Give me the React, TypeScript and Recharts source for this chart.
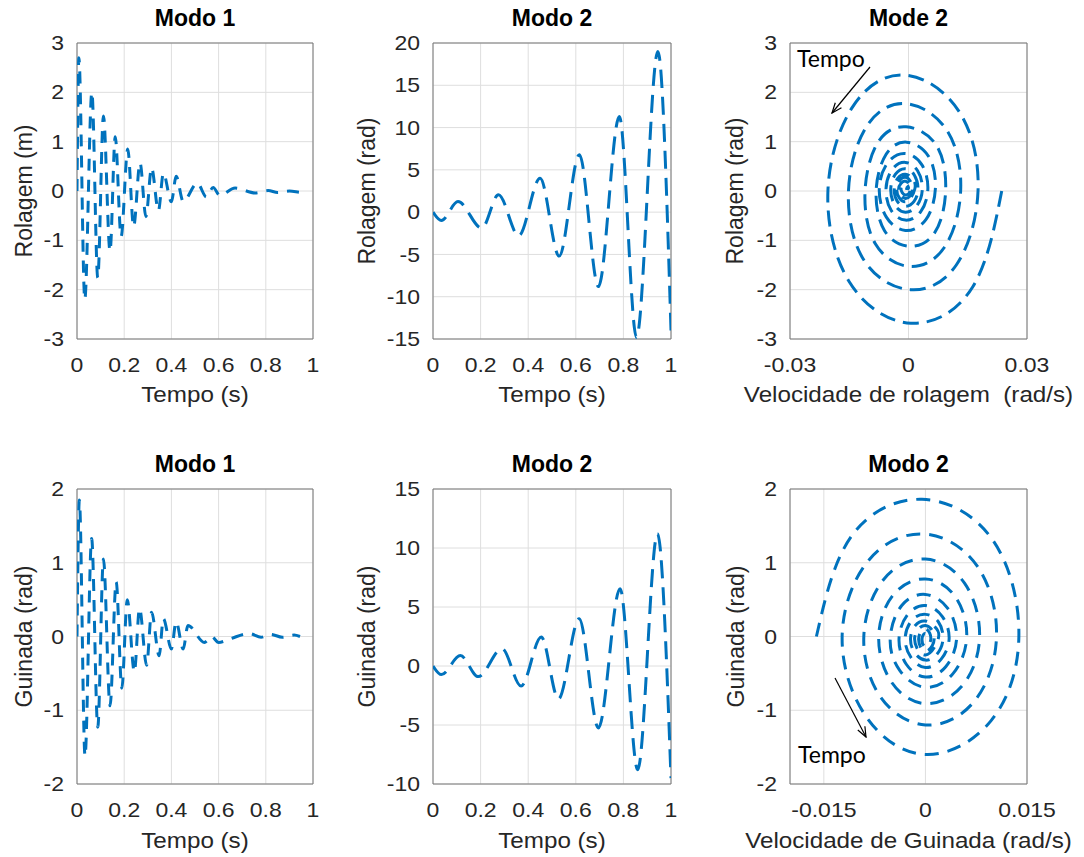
import React from 'react';
import { LineChart, Line, XAxis, YAxis, CartesianGrid, ReferenceArea } from 'recharts';

// ---- Modo 1 (rolagem x tempo) ----
const tempoRol1 = [0, 0.008, 0.033, 0.063, 0.088, 0.112, 0.14, 0.162, 0.187, 0.215, 0.24, 0.267, 0.292, 0.316, 0.345, 0.366, 0.4, 0.42, 0.45, 0.51, 0.548, 0.577, 0.605, 0.67, 0.755, 0.81, 0.85, 0.9, 0.955, 0.975];
const rolagem1 = [0, 2.7, -2.2, 2.0, -1.76, 1.52, -1.22, 1.1, -0.92, 0.85, -0.72, 0.57, -0.52, 0.47, -0.4, 0.36, -0.22, 0.3, -0.21, 0.16, -0.12, 0.07, -0.09, 0.06, -0.04, 0.01, -0.03, 0.0, -0.03, 0.0];

// ---- Modo 2 (rolagem x tempo) ----
const tempoRol2 = [0, 0.035, 0.105, 0.205, 0.275, 0.36, 0.45, 0.53, 0.615, 0.695, 0.783, 0.855, 0.945, 1.0];
const rolagem2 = [0, -1.0, 1.25, -1.9, 2.05, -2.8, 4.0, -5.2, 6.8, -8.8, 11.3, -14.8, 19.0, -14.0];

// ---- Modo 2 (rolagem x velocidade de rolagem) ----
const velRol = [
  0.0236, 0.0162, 0.0006, -0.015, -0.0204, -0.0141, -0.001, 0.0129,
  0.0176, 0.0121, 0.0005, -0.0113, -0.0152, -0.0106, -0.0008, 0.0098,
  0.0132, 0.0091, 0.0003, -0.0084, -0.011, -0.0077, -0.0006, 0.0071,
  0.0094, 0.0066, 0.0002, -0.0061, -0.0082, -0.0057, -0.0005, 0.0051,
  0.0068, 0.0044, -0.0008, -0.0056, -0.0074, -0.0053, -0.0008, 0.0034,
  0.0049, 0.0031, -0.0008, -0.0044, -0.0057, -0.0041, -0.0008, 0.0023,
  0.0035, 0.0021, -0.0008, -0.0035, -0.0045, -0.0033, -0.0008, 0.0015,
  0.0024, 0.0014, -0.0008, -0.0029, -0.0036, -0.0027, -0.0008, 0.001,
  0.0016, -0.0008, -0.003, -0.0008, 0.001, -0.0008, -0.0025, -0.0008,
  0.0005, -0.0008, -0.0019, -0.0008, 0.0, -0.0008,
];
const rolSpiral = [
  0.0, -1.95, -2.68, -1.84, 0.0, 1.71, 2.35, 1.6,
  0.0, -1.5, -2.0, -1.4, 0.0, 1.31, 1.77, 1.22,
  0.0, -1.14, -1.53, -1.07, 0.0, 0.99, 1.3, 0.92,
  0.0, -0.85, -1.12, -0.8, 0.0, 0.74, 0.99, 0.7,
  0.04, -0.58, -0.8, -0.53, 0.04, 0.57, 0.76, 0.53,
  0.04, -0.42, -0.59, -0.39, 0.04, 0.44, 0.58, 0.41,
  0.04, -0.3, -0.43, -0.28, 0.04, 0.34, 0.45, 0.32,
  0.04, -0.21, -0.31, -0.2, 0.04, 0.26, 0.34, 0.25,
  0.04, -0.22, 0.04, 0.28, 0.04, -0.15, 0.04, 0.2,
  0.04, -0.08, 0.05, 0.14, 0.06, 0.06,
];

// ---- Modo 1 (guinada x tempo) ----
const tempoGui1 = [0, 0.01, 0.034, 0.062, 0.088, 0.112, 0.14, 0.166, 0.19, 0.213, 0.243, 0.265, 0.295, 0.316, 0.348, 0.366, 0.4, 0.42, 0.45, 0.47, 0.54, 0.57, 0.6, 0.65, 0.73, 0.78, 0.82, 0.87, 0.92, 0.945];
const guinada1 = [0, 1.85, -1.62, 1.33, -1.23, 1.05, -0.94, 0.74, -0.7, 0.5, -0.48, 0.38, -0.39, 0.33, -0.26, 0.24, -0.17, 0.2, -0.17, 0.15, -0.08, 0.0, -0.08, -0.03, 0.04, -0.01, 0.03, -0.01, 0.02, 0.0];

// ---- Modo 2 (guinada x tempo) ----
const tempoGui2 = [0, 0.035, 0.115, 0.19, 0.29, 0.37, 0.455, 0.527, 0.614, 0.695, 0.786, 0.86, 0.943, 1.0];
const guinada2 = [0, -0.73, 0.88, -0.9, 1.47, -1.7, 2.46, -2.8, 4.0, -5.25, 6.55, -8.8, 11.2, -9.5];

// ---- Modo 2 (guinada x velocidade de guinada) ----
const velGui = [
  -0.0161, -0.011, -0.0005, 0.01, 0.0138, 0.0097, 0.0, -0.0088,
  -0.0123, -0.0085, -0.0003, 0.0076, 0.0105, 0.0072, 0.0, -0.0067,
  -0.0091, -0.0062, 0.0, 0.0058, 0.008, 0.0055, 0.0, -0.005,
  -0.0069, -0.0047, 0.0, 0.0044, 0.0061, 0.0041, 0.0, -0.0038,
  -0.0052, -0.0035, 0.0, 0.0033, 0.0046, 0.003, 0.0, -0.0028,
  -0.0039, -0.0026, 0.0, 0.0025, 0.0035, 0.0023, 0.0, -0.0021,
  -0.003, -0.002, 0.0, 0.0019, 0.0026, 0.0017, 0.0, -0.0016,
  -0.0022, -0.0015, 0.0, 0.0014, 0.0019,
  0.0, -0.0016, 0.0, 0.0013, 0.0, -0.001, 0.0, 0.0008, 0.0, -0.0005, 0.0, 0.0003, 0.0,
];
const guiSpiral = [
  0.0, 1.35, 1.86, 1.3, 0.0, -1.14, -1.6, -1.08,
  0.0, 1.02, 1.39, 0.96, 0.0, -0.88, -1.2, -0.81,
  0.0, 0.77, 1.05, 0.72, 0.0, -0.66, -0.91, -0.62,
  0.0, 0.57, 0.78, 0.54, 0.0, -0.5, -0.69, -0.46,
  -0.03, 0.42, 0.57, 0.38, -0.03, -0.41, -0.55, -0.38,
  -0.03, 0.3, 0.42, 0.27, -0.03, -0.31, -0.42, -0.29,
  -0.03, 0.22, 0.3, 0.2, -0.03, -0.24, -0.32, -0.22,
  -0.03, 0.15, 0.21, 0.13, -0.03,
  -0.25, -0.03, 0.15, -0.03, -0.2, -0.03, 0.1, -0.03, -0.14, -0.03, 0.04, -0.03, -0.05,
];

const tempoTicks = [0, 0.2, 0.4, 0.6, 0.8, 1];

const zip = (xs: number[], ys: number[]) => xs.map((x, i) => ({ x, y: ys[i] }));

const BLUE = '#0072BD';
const FONT = '"Liberation Sans", Arial, Helvetica, sans-serif';
const YW = 60;
const XH = 40;
const PAD = 15;
const PAD_R = 45;

const Tick = (props: any) => {
  const { x, y, payload, anchor, dy } = props;
  return (
    <g transform={`translate(${x},${y}) scale(1.15,1)`}>
      <text x={0} y={0} dy={dy} textAnchor={anchor} fontSize={20} fontFamily={FONT} fill="#262626">
        {payload.value}
      </text>
    </g>
  );
};

type PanelProps = {
  plot: number[];
  data: { x: number; y: number }[];
  xDomain: number[];
  xTicks: number[];
  yDomain: number[];
  yTicks: number[];
  curve: 'monotone' | 'natural';
  dash: string;
};

const Panel: React.FC<PanelProps> = ({ plot, data, xDomain, xTicks, yDomain, yTicks, curve, dash }) => {
  const [px, py, pw, ph] = plot;
  return (
    <div style={{ position: 'absolute', left: px - YW, top: py - PAD }}>
      <LineChart width={pw + YW + PAD_R} height={ph + PAD + XH} data={data} margin={{ top: PAD, right: PAD_R, bottom: 0, left: 0 }}>
        <CartesianGrid stroke="#dedede" />
        <XAxis
          type="number"
          dataKey="x"
          domain={xDomain}
          ticks={xTicks}
          interval={0}
          height={XH}
          axisLine={false}
          tickLine={false}
          tickSize={0}
          tickMargin={19}
          allowDataOverflow
          tick={(p: any) => <Tick {...p} anchor="middle" dy="0.71em" />}
        />
        <YAxis
          type="number"
          domain={yDomain}
          ticks={yTicks}
          interval={0}
          width={YW}
          axisLine={false}
          tickLine={false}
          tickSize={0}
          tickMargin={13}
          allowDataOverflow
          tick={(p: any) => <Tick {...p} anchor="end" dy="0.355em" />}
        />
        <ReferenceArea x1={xDomain[0]} x2={xDomain[1]} y1={yDomain[0]} y2={yDomain[1]} fill="none" fillOpacity={0} stroke="#777" strokeWidth={1} />
        <Line
          dataKey="y"
          type={curve}
          stroke={BLUE}
          strokeWidth={3}
          strokeDasharray={dash}
          dot={false}
          activeDot={false}
          isAnimationActive={false}
        />
      </LineChart>
    </div>
  );
};

// plot areas: left, top, width, height
const TL = [77, 43, 236, 296];
const TM = [433, 43, 238, 296];
const TR = [790, 43, 237, 296];
const BL = [77, 489, 236, 295];
const BM = [433, 489, 238, 295];
const BR = [790, 489, 237, 295];

const cx = (p: number[]) => p[0] + p[2] / 2;
const cy = (p: number[]) => p[1] + p[3] / 2;

const Title = ({ p, y, children }: any) => (
  <text x={cx(p)} y={y} textAnchor="middle" fontSize={23} fontWeight="bold" fontFamily={FONT} fill="#000">
    {children}
  </text>
);

const XLabel = ({ p, y, children }: any) => (
  <text transform={`translate(${cx(p)},${y}) scale(1.1,1)`} textAnchor="middle" fontSize={22} fontFamily={FONT} fill="#262626" style={{ whiteSpace: 'pre' }}>
    {children}
  </text>
);

const YLabel = ({ p, x, children }: any) => (
  <text transform={`translate(${x},${cy(p)}) rotate(-90)`} textAnchor="middle" fontSize={23} fontFamily={FONT} fill="#262626">
    {children}
  </text>
);

export default function App() {
  return (
    <div style={{ position: 'absolute', left: 0, top: 0, width: 1084, height: 857, background: '#fff', overflow: 'hidden' }}>
      <Panel plot={TL} data={zip(tempoRol1, rolagem1)} xDomain={[0, 1]} xTicks={tempoTicks} yDomain={[-3, 3]} yTicks={[-3, -2, -1, 0, 1, 2, 3]} curve="monotone" dash="12 9" />
      <Panel plot={TM} data={zip(tempoRol2, rolagem2)} xDomain={[0, 1]} xTicks={tempoTicks} yDomain={[-15, 20]} yTicks={[-15, -10, -5, 0, 5, 10, 15, 20]} curve="monotone" dash="18 9" />
      <Panel plot={TR} data={zip(velRol, rolSpiral)} xDomain={[-0.03, 0.03]} xTicks={[-0.03, 0, 0.03]} yDomain={[-3, 3]} yTicks={[-3, -2, -1, 0, 1, 2, 3]} curve="natural" dash="16 8" />
      <Panel plot={BL} data={zip(tempoGui1, guinada1)} xDomain={[0, 1]} xTicks={tempoTicks} yDomain={[-2, 2]} yTicks={[-2, -1, 0, 1, 2]} curve="monotone" dash="12 9" />
      <Panel plot={BM} data={zip(tempoGui2, guinada2)} xDomain={[0, 1]} xTicks={tempoTicks} yDomain={[-10, 15]} yTicks={[-10, -5, 0, 5, 10, 15]} curve="monotone" dash="18 9" />
      <Panel plot={BR} data={zip(velGui, guiSpiral)} xDomain={[-0.02, 0.015]} xTicks={[-0.015, 0, 0.015]} yDomain={[-2, 2]} yTicks={[-2, -1, 0, 1, 2]} curve="natural" dash="14 9" />

      <svg width={1084} height={857} style={{ position: 'absolute', left: 0, top: 0, pointerEvents: 'none' }}>
        <defs>
          <marker id="head" markerWidth={12} markerHeight={10} refX={11} refY={5} orient="auto" markerUnits="userSpaceOnUse">
            <path d="M1,1 L11,5 L1,9" fill="none" stroke="#000" strokeWidth={1.2} />
          </marker>
        </defs>

        <Title p={TL} y={26}>Modo 1</Title>
        <Title p={TM} y={26}>Modo 2</Title>
        <Title p={TR} y={26}>Mode 2</Title>
        <Title p={BL} y={472}>Modo 1</Title>
        <Title p={BM} y={472}>Modo 2</Title>
        <Title p={BR} y={472}>Modo 2</Title>

        <XLabel p={TL} y={402}>Tempo (s)</XLabel>
        <XLabel p={TM} y={402}>Tempo (s)</XLabel>
        <XLabel p={TR} y={402}>{'Velocidade de rolagem  (rad/s)'}</XLabel>
        <XLabel p={BL} y={848}>Tempo (s)</XLabel>
        <XLabel p={BM} y={848}>Tempo (s)</XLabel>
        <XLabel p={BR} y={848}>Velocidade de Guinada (rad/s)</XLabel>

        <YLabel p={TL} x={32}>Rolagem (m)</YLabel>
        <YLabel p={TM} x={375}>Rolagem (rad)</YLabel>
        <YLabel p={TR} x={743}>Rolagem (rad)</YLabel>
        <YLabel p={BL} x={32}>Guinada (rad)</YLabel>
        <YLabel p={BM} x={375}>Guinada (rad)</YLabel>
        <YLabel p={BR} x={744}>Guinada (rad)</YLabel>

        <text x={797} y={67} fontSize={23} fontFamily="Lato, 'Open Sans', sans-serif" fill="#000">Tempo</text>
        <line x1={870} y1={67} x2={832} y2={113} stroke="#000" strokeWidth={1.2} markerEnd="url(#head)" />
        <text x={798} y={763} fontSize={23} fontFamily="Lato, 'Open Sans', sans-serif" fill="#000">Tempo</text>
        <line x1={835} y1={678} x2={866} y2={737} stroke="#000" strokeWidth={1.2} markerEnd="url(#head)" />
      </svg>
    </div>
  );
}
